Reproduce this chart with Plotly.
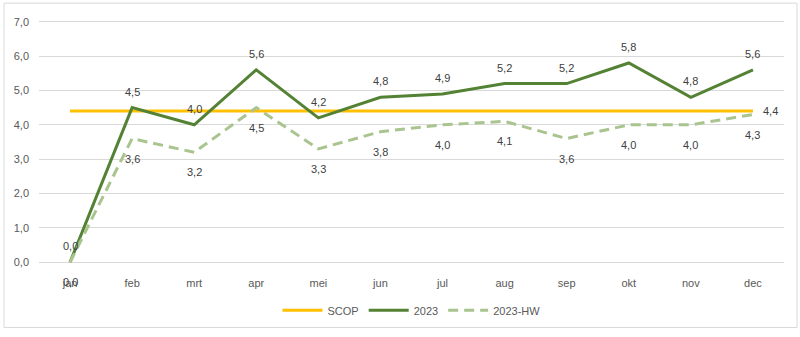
import plotly.graph_objects as go

months = ["jan", "feb", "mrt", "apr", "mei", "jun", "jul", "aug", "sep", "okt", "nov", "dec"]
scop = [4.4] * 12
y2023 = [0.0, 4.5, 4.0, 5.6, 4.2, 4.8, 4.9, 5.2, 5.2, 5.8, 4.8, 5.6]
y2023_hw = [0.0, 3.6, 3.2, 4.5, 3.3, 3.8, 4.0, 4.1, 3.6, 4.0, 4.0, 4.3]

FONT = "Liberation Sans"
TEXT_COL = "#404040"
AXIS_COL = "#595959"


def fmt(v):
    return f"{v:.1f}".replace(".", ",")


fig = go.Figure()

fig.add_trace(go.Scatter(
    x=months, y=scop, name="SCOP", mode="lines",
    line=dict(color="#FFC000", width=3),
))
fig.add_trace(go.Scatter(
    x=months, y=y2023, name="2023", mode="lines",
    line=dict(color="#548235", width=3),
))
fig.add_trace(go.Scatter(
    x=months, y=y2023_hw, name="2023-HW", mode="lines",
    line=dict(color="#A9C48F", width=3, dash="10px,6px"),
))

# data labels: 2023 above its points, 2023-HW below, SCOP right of its last point
annotations = []
for m, v in zip(months, y2023):
    annotations.append(dict(x=m, y=v, text=fmt(v), showarrow=False, yshift=16,
                            font=dict(family=FONT, size=11, color=TEXT_COL)))
for m, v in zip(months, y2023_hw):
    annotations.append(dict(x=m, y=v, text=fmt(v), showarrow=False, yshift=-20,
                            font=dict(family=FONT, size=11, color=TEXT_COL)))
annotations.append(dict(x=months[-1], y=scop[-1], text=fmt(scop[-1]), showarrow=False,
                        xanchor="left", xshift=8,
                        font=dict(family=FONT, size=11, color=TEXT_COL)))

fig.update_layout(
    width=800, height=337,
    margin=dict(l=39, r=16, t=20, b=67),
    paper_bgcolor="white", plot_bgcolor="white",
    font=dict(family=FONT, size=11, color=AXIS_COL),
    showlegend=True,
    legend=dict(orientation="h", x=0.5, xanchor="center", y=-0.19, yanchor="middle",
                font=dict(family=FONT, size=11, color=AXIS_COL),
                itemwidth=40, traceorder="normal"),
    xaxis=dict(
        type="category", range=[-0.5, 11.5], showgrid=False, zeroline=False,
        showline=False, ticks="", ticklabelstandoff=11,
        tickfont=dict(family=FONT, size=11, color=AXIS_COL),
    ),
    yaxis=dict(
        range=[-0.05, 7.05], tickvals=[0, 1, 2, 3, 4, 5, 6, 7],
        ticktext=[fmt(v) for v in range(8)],
        showgrid=True, gridcolor="#D9D9D9", gridwidth=1, zeroline=False,
        showline=False, ticks="", ticklabelstandoff=9,
        tickfont=dict(family=FONT, size=11, color=AXIS_COL),
    ),
    annotations=annotations,
    shapes=[dict(
        type="rect", xref="paper", yref="paper",
        x0=(4 - 39) / 745, x1=(797 - 39) / 745,
        y0=(268 - 332) / 246, y1=(268 - 5) / 246,
        line=dict(color="#D9D9D9", width=1), fillcolor="rgba(0,0,0,0)", layer="below",
    )],
)

fig.write_html("out.html")
